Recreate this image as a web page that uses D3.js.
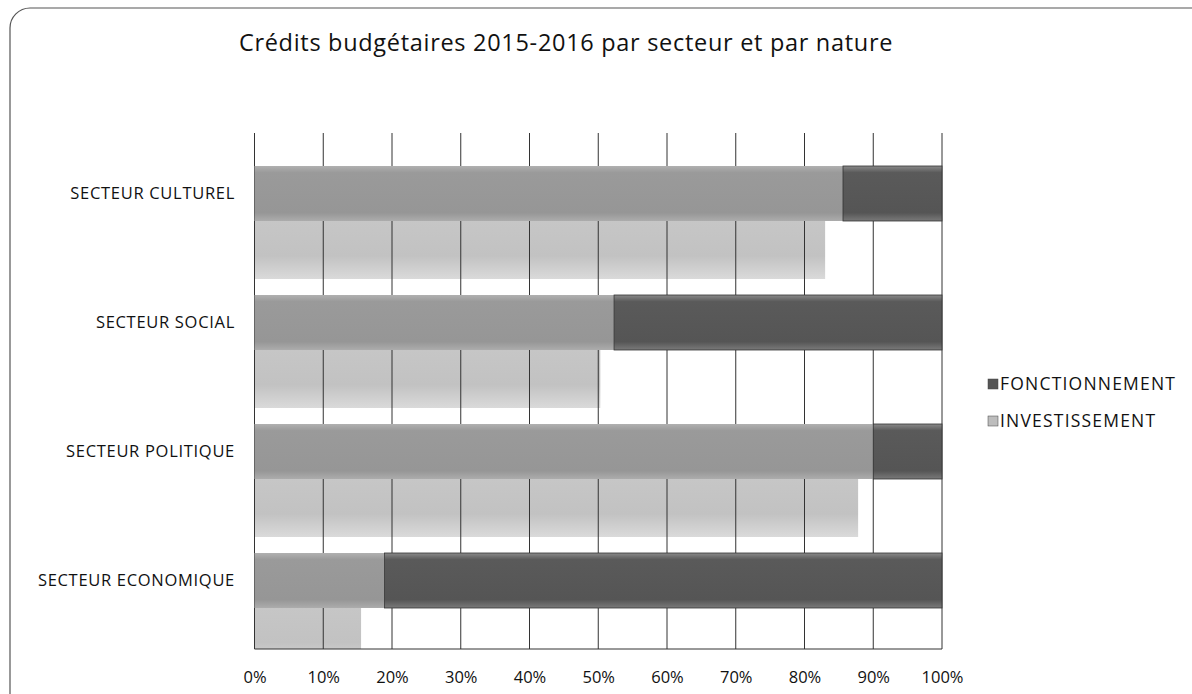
<!DOCTYPE html>
<html><head><meta charset="utf-8">
<script src="https://cdn.jsdelivr.net/npm/d3@7"></script>
<style>body{margin:0;background:#fff;} svg{display:block;}</style>
</head><body>
<svg id="c" width="1192" height="694"></svg>
<script>
const categories = ["SECTEUR CULTUREL","SECTEUR SOCIAL","SECTEUR POLITIQUE","SECTEUR ECONOMIQUE"];
const investissement = [85.6, 52.3, 90.0, 18.9];
const fonctionnement = [14.4, 47.7, 10.0, 81.1];
const investissementBas = [83.0, 50.3, 87.8, 15.5];
const xTicks = [0,10,20,30,40,50,60,70,80,90,100];
const seriesNames = ["FONCTIONNEMENT","INVESTISSEMENT"];
const title = "Crédits budgétaires 2015-2016 par secteur et par nature";

const svg = d3.select("#c");
const font = "'Open Sans', sans-serif";
const defs = svg.append("defs");
function grad(id, stops){
  const g = defs.append("linearGradient").attr("id",id).attr("x1",0).attr("x2",0).attr("y1",0).attr("y2",1);
  stops.forEach(s=>g.append("stop").attr("offset",s[0]).attr("stop-color",s[1]));
}
grad("gInv",[[0,"#b0b0b0"],[0.12,"#9a9a9a"],[0.85,"#969696"],[1,"#acacac"]]);
grad("gFon",[[0,"#8a8a8a"],[0.12,"#5a5a5a"],[0.85,"#555555"],[1,"#7a7a7a"]]);
grad("gBas",[[0,"#c6c6c6"],[0.6,"#c2c2c2"],[1,"#dadada"]]);

// frame
svg.append("rect").attr("x",10).attr("y",8).attr("width",1220).attr("height",720)
  .attr("rx",20).attr("fill","none").attr("stroke","#555").attr("stroke-width",1.2);

svg.append("text").attr("x",566).attr("y",51).attr("text-anchor","middle")
  .attr("font-family",font).attr("font-size",23.5).attr("letter-spacing",0.7)
  .attr("fill","#111").text(title);

const x = d3.scaleLinear().domain([0,100]).range([254.5,942]);
const y = d3.scaleBand().domain(categories).range([133,649]);
const plotTop = 133, plotBottom = 649;

defs.append("clipPath").attr("id","plot").append("rect")
  .attr("x",254).attr("y",plotTop).attr("width",690).attr("height",plotBottom-plotTop);

const plot = svg.append("g").attr("clip-path","url(#plot)");

// lower (light) bars
plot.selectAll("rect.bas").data(categories).join("rect").attr("class","bas")
  .attr("x",x(0)).attr("y",c=>y(c)+88)
  .attr("width",(c,i)=>x(investissementBas[i])-x(0)).attr("height",58)
  .attr("fill","url(#gBas)");

// gridlines
svg.append("g").selectAll("line").data(xTicks).join("line")
  .attr("x1",d=>x(d)).attr("x2",d=>x(d)).attr("y1",plotTop).attr("y2",plotBottom)
  .attr("stroke","#333").attr("stroke-width",1);
svg.append("line").attr("x1",x(0)).attr("x2",x(100)).attr("y1",plotBottom).attr("y2",plotBottom)
  .attr("stroke","#333").attr("stroke-width",1);

// upper stacked bars
const up = svg.append("g");
up.selectAll("rect.inv").data(categories).join("rect").attr("class","inv")
  .attr("x",x(0)).attr("y",c=>y(c)+33)
  .attr("width",(c,i)=>x(investissement[i])-x(0)).attr("height",55)
  .attr("fill","url(#gInv)");
up.selectAll("rect.fon").data(categories).join("rect").attr("class","fon")
  .attr("x",(c,i)=>x(investissement[i])).attr("y",c=>y(c)+33)
  .attr("width",(c,i)=>x(investissement[i]+fonctionnement[i])-x(investissement[i])).attr("height",55)
  .attr("fill","url(#gFon)").attr("stroke","#333").attr("stroke-width",0.8);

// y labels
svg.append("g").selectAll("text").data(categories).join("text")
  .attr("x",235).attr("y",c=>y(c)+33+27.5).attr("dy","0.36em").attr("text-anchor","end")
  .attr("font-family",font).attr("font-size",16.5).attr("letter-spacing",0.7).attr("fill","#111").text(d=>d);

// x axis labels
const xAxis = d3.axisBottom(x).tickValues(xTicks).tickFormat(d=>d+"%").tickSize(0).tickPadding(22);
const gx = svg.append("g").attr("transform",`translate(0,${plotBottom})`).call(xAxis);
gx.select(".domain").remove();
gx.selectAll("text").attr("font-family",font).attr("font-size",16.5).attr("fill","#111");

// legend
const leg = svg.append("g");
const legFill = ["#555","#bdbdbd"];
seriesNames.forEach((n,i)=>{
  const yy = 384 + i*37;
  leg.append("rect").attr("x",988).attr("y",yy-5).attr("width",10).attr("height",10)
    .attr("fill",legFill[i]).attr("stroke","#444").attr("stroke-width",0.5);
  leg.append("text").attr("x",1000).attr("y",yy).attr("dy","0.36em")
    .attr("font-family",font).attr("font-size",17.5).attr("letter-spacing",1.2).attr("fill","#111").text(n);
});
</script>
</body></html>
